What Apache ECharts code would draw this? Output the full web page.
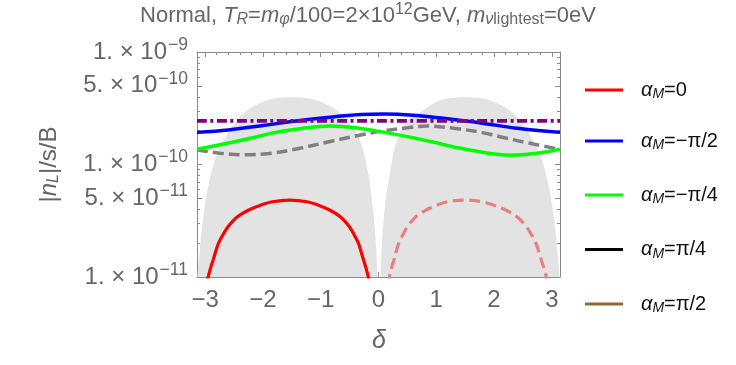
<!DOCTYPE html>
<html><head><meta charset="utf-8">
<script src="https://cdn.jsdelivr.net/npm/echarts@6/dist/echarts.min.js"></script>
<style>html,body{margin:0;padding:0;background:#fff}#c{width:736px;height:365px}</style>
</head><body><div id="c"></div>
<script>
// ---------- axes ----------
const xMin = -Math.PI, xMax = Math.PI;
const yMin = 1e-11, yMax = 1e-9;
const xTickLabels = [-3, -2, -1, 0, 1, 2, 3];
const xMinorTicks = [-2.8,-2.6,-2.4,-2.2,-1.8,-1.6,-1.4,-1.2,-0.8,-0.6,-0.4,-0.2,0.2,0.4,0.6,0.8,1.2,1.4,1.6,1.8,2.2,2.4,2.6,2.8];
const yTickLabels = [1e-11, 5e-11, 1e-10, 5e-10, 1e-9];
const yMinorTicks = [2e-11,3e-11,4e-11,6e-11,7e-11,8e-11,9e-11,2e-10,3e-10,4e-10,6e-10,7e-10,8e-10,9e-10];

// ---------- data (delta, |n_L|/s/B) ----------
const shadeLeftDelta  = [-3.1416,-3.134,-3.104,-3.047,-2.96,-2.814,-2.67,-2.496,-2.264,-2.0,-1.8,-1.5,-1.2,-1.0,-0.727,-0.496,-0.322,-0.177,-0.101,-0.049,-0.021,-0.012];
const shadeLeftValue  = [8e-12,1.0e-11,1.51e-11,3.0e-11,5.93e-11,1.17e-10,1.65e-10,2.32e-10,3.05e-10,3.62e-10,3.87e-10,3.96e-10,3.87e-10,3.62e-10,3.05e-10,2.32e-10,1.65e-10,8.36e-11,4.22e-11,2.13e-11,1.08e-11,8e-12];
const shadeRightDelta = [0.022,0.035,0.063,0.11,0.197,0.317,0.461,0.779,1.0,1.2,1.5,1.8,2.0,2.264,2.496,2.67,2.814,2.96,3.047,3.104,3.134,3.1416];
const shadeRightValue = [8e-12,1.08e-11,2.13e-11,4.22e-11,8.36e-11,1.65e-10,2.32e-10,3.05e-10,3.62e-10,3.87e-10,3.96e-10,3.87e-10,3.62e-10,3.05e-10,2.32e-10,1.65e-10,1.17e-10,5.93e-11,3.0e-11,1.51e-11,1.0e-11,8e-12];

const redDelta  = [-2.984,-2.948,-2.907,-2.861,-2.815,-2.769,-2.687,-2.605,-2.452,-2.247,-2.042,-1.837,-1.53,-1.237,-1.041,-0.846,-0.651,-0.504,-0.426,-0.348,-0.304,-0.26,-0.216,-0.177,-0.143];
const redValue  = [8.5e-12,1.0e-11,1.2e-11,1.42e-11,1.7e-11,2.0e-11,2.4e-11,2.8e-11,3.4e-11,3.94e-11,4.35e-11,4.67e-11,4.83e-11,4.67e-11,4.35e-11,3.94e-11,3.4e-11,2.8e-11,2.4e-11,2.0e-11,1.7e-11,1.42e-11,1.2e-11,1.0e-11,8.5e-12];
const pinkDelta = [0.155,0.188,0.225,0.267,0.309,0.351,0.426,0.5,0.64,0.827,1.013,1.2,1.48,1.789,1.995,2.2,2.406,2.56,2.643,2.725,2.771,2.818,2.864,2.905,2.941];
const pinkValue = [8.5e-12,1.0e-11,1.2e-11,1.42e-11,1.7e-11,2.0e-11,2.4e-11,2.8e-11,3.4e-11,3.94e-11,4.35e-11,4.67e-11,4.83e-11,4.67e-11,4.35e-11,3.94e-11,3.4e-11,2.8e-11,2.4e-11,2.0e-11,1.7e-11,1.42e-11,1.2e-11,1.0e-11,8.5e-12];
const blueDelta  = [-3.1416,-2.6,-2.0,-1.4,-0.8,-0.3,0.1,0.6,1.2,1.8,2.4,3.1416];
const blueValue  = [1.93e-10,2.03e-10,2.22e-10,2.45e-10,2.65e-10,2.78e-10,2.81e-10,2.74e-10,2.55e-10,2.33e-10,2.1e-10,1.93e-10];
const greenDelta = [-3.1416,-2.6,-2.2,-1.8,-1.3,-0.84,-0.4,0.03,0.5,0.9,1.4,1.9,2.29,2.75,3.1416];
const greenValue = [1.365e-10,1.55e-10,1.72e-10,1.92e-10,2.1e-10,2.2e-10,2.12e-10,1.96e-10,1.77e-10,1.6e-10,1.4e-10,1.26e-10,1.21e-10,1.26e-10,1.365e-10];
const grayDelta  = [-3.1416,-2.75,-2.3,-1.9,-1.4,-0.84,-0.4,0.03,0.5,0.84,1.3,1.8,2.2,2.6,3.1416];
const grayValue  = [1.35e-10,1.26e-10,1.22e-10,1.25e-10,1.38e-10,1.6e-10,1.79e-10,1.97e-10,2.12e-10,2.2e-10,2.1e-10,1.92e-10,1.72e-10,1.55e-10,1.365e-10];
const purpleDelta = [-3.1416, 0, 3.1416];
const purpleValue = [2.44e-10, 2.44e-10, 2.44e-10];

const legendNames  = ['aM0','aMm2','aMm4','aMp4','aMp2'];
const legendLabels = ['=0','=\u2212\u03c0/2','=\u2212\u03c0/4','=\u03c0/4','=\u03c0/2'];
const legendColors = ['#ff0000','#0000ff','#00ff00','#000000','#996633'];

// ---------- build ----------
const zip = (a, b) => a.map((d, i) => [d, b[i]]);
const FONT = "'Liberation Sans', Arial, sans-serif";
const GRAYTXT = '#666666';
const FRAME = '#8a8a8a';

function fmtY(v) {
  const e = Math.floor(Math.log10(v) + 1e-6);
  const m = Math.round(v / Math.pow(10, e));
  return '{m|' + m + '. \u00d7 10}{e|\u2212' + (-e) + '}';
}
const yRich = {
  m: {fontSize: 24, color: GRAYTXT, fontFamily: FONT},
  e: {fontSize: 17.5, color: GRAYTXT, fontFamily: FONT, padding: [0, 0, 14, 1]}
};

const grid = {left: 197, right: 176, top: 52, bottom: 88};

function xAx(pos, ticks, len, labels, line) {
  return {
    type: 'value', min: xMin, max: xMax, position: pos,
    axisLine: {show: line, onZero: false, lineStyle: {color: FRAME, width: 1}},
    axisTick: {show: true, inside: true, length: len, customValues: ticks, lineStyle: {color: FRAME}},
    axisLabel: labels ? {show: true, customValues: xTickLabels, margin: 11, color: GRAYTXT, fontSize: 24, fontFamily: FONT,
      formatter: v => (v < 0 ? '\u2212' + (-v) : '' + v)} : {show: false},
    splitLine: {show: false}
  };
}
function yAx(pos, ticks, len, labels, line) {
  return {
    type: 'log', logBase: 10, min: yMin, max: yMax, position: pos,
    axisLine: {show: line, onZero: false, lineStyle: {color: FRAME, width: 1}},
    axisTick: {show: true, inside: true, length: len, customValues: ticks, lineStyle: {color: FRAME}},
    axisLabel: labels ? {show: true, customValues: yTickLabels, margin: 9, formatter: fmtY, rich: yRich} : {show: false},
    splitLine: {show: false}, minorTick: {show: false}
  };
}

function lineSeries(name, d, v, color, width, type, z) {
  return {
    name: name, type: 'line', data: zip(d, v), showSymbol: false, symbol: 'none', smooth: 0.35,
    clip: true, z: z, silent: true, animation: false,
    itemStyle: {color: color},
    lineStyle: {color: color, width: width, type: type, cap: 'butt'}
  };
}
function shadeSeries(d, v) {
  return {
    type: 'line', data: zip(d, v), showSymbol: false, symbol: 'none', smooth: 0.3, clip: true, z: 1,
    silent: true, animation: false,
    lineStyle: {width: 0, color: '#e3e3e3'},
    itemStyle: {color: '#e3e3e3'},
    areaStyle: {color: '#e3e3e3', opacity: 1, origin: 'start'}
  };
}

const series = [
  shadeSeries(shadeLeftDelta, shadeLeftValue),
  shadeSeries(shadeRightDelta, shadeRightValue),
  lineSeries('pink', pinkDelta, pinkValue, '#e88080', 3.2, [11, 5.5], 3),
  lineSeries(legendNames[0], redDelta, redValue, legendColors[0], 3.2, 'solid', 4),
  lineSeries('gray', grayDelta, grayValue, '#808080', 3.5, [11, 5], 5),
  lineSeries(legendNames[2], greenDelta, greenValue, legendColors[2], 3.5, 'solid', 6),
  lineSeries(legendNames[1], blueDelta, blueValue, legendColors[1], 3.5, 'solid', 7),
  lineSeries('purple', purpleDelta, purpleValue, '#800080', 3.6, [10, 3.5, 3, 3.5], 8),
  lineSeries(legendNames[3], [], [], legendColors[3], 3, 'solid', 2),
  lineSeries(legendNames[4], [], [], legendColors[4], 3, 'solid', 2)
];

const legendCenters = [93, 144, 198, 252.5, 307];
const legends = legendNames.map((n, i) => ({
  data: [n], orient: 'vertical', left: 585, top: legendCenters[i] - 13,
  icon: 'rect', itemWidth: 38, itemHeight: 3, selectedMode: false, padding: 0,
  formatter: () => '{sp| }{a|\u03b1}{M|M}{t|' + legendLabels[i] + '}',
  textStyle: {
    rich: {
      sp: {width: 13, fontSize: 10},
      a: {fontSize: 20, fontStyle: 'italic', color: '#111', fontFamily: FONT},
      M: {fontSize: 14, fontStyle: 'italic', color: '#111', fontFamily: FONT, padding: [9, 0, 0, 0]},
      t: {fontSize: 20, color: '#111', fontFamily: FONT}
    }
  }
}));

const titleRich = {
  n: {fontSize: 22, color: GRAYTXT, fontFamily: FONT, fontWeight: 'normal'},
  i: {fontSize: 22, color: GRAYTXT, fontFamily: FONT, fontStyle: 'italic', fontWeight: 'normal'},
  is: {fontSize: 16, color: GRAYTXT, fontFamily: FONT, fontStyle: 'italic', fontWeight: 'normal', padding: [9, 0, 0, 0]},
  ss: {fontSize: 16, color: GRAYTXT, fontFamily: FONT, fontWeight: 'normal', padding: [9, 0, 0, 0]},
  sup: {fontSize: 16, color: GRAYTXT, fontFamily: FONT, fontWeight: 'normal', padding: [0, 0, 11, 0]}
};

const chart = echarts.init(document.getElementById('c'), null, {renderer: 'canvas'});
chart.setOption({
  animation: false,
  backgroundColor: '#ffffff',
  title: {
    text: '{n|Normal, }{i|T}{is|R}{n|=}{i|m}{is|\u03c6}{n|/100=2\u00d710}{sup|12}{n|GeV, }{i|m}{is|\u03bd}{ss|lightest}{n|=0eV}',
    left: 'center', top: 2, padding: 0,
    textStyle: {fontWeight: 'normal', color: GRAYTXT, rich: titleRich}
  },
  legend: legends,
  grid: grid,
  xAxis: [
    xAx('bottom', xTickLabels, 5, true, true),
    xAx('bottom', xMinorTicks, 3, false, false),
    xAx('top', xTickLabels, 5, false, true),
    xAx('top', xMinorTicks, 3, false, false)
  ],
  yAxis: [
    yAx('left', yTickLabels, 5, true, true),
    yAx('left', yMinorTicks, 3, false, false),
    yAx('right', yTickLabels, 5, false, true),
    yAx('right', yMinorTicks, 3, false, false)
  ],
  graphic: [
    {type: 'text', x: 49, y: 164.5, rotation: Math.PI / 2,
      style: {text: '{t||}{i|n}{s|L}{t||/s/B}', textAlign: 'center', textVerticalAlign: 'middle', fill: GRAYTXT,
        rich: {
          t: {fontSize: 24, fill: GRAYTXT, fontFamily: FONT},
          i: {fontSize: 24, fill: GRAYTXT, fontFamily: FONT, fontStyle: 'italic'},
          s: {fontSize: 16, fill: GRAYTXT, fontFamily: FONT, fontStyle: 'italic', padding: [10, 0, 0, 0]}
        }}},
    {type: 'text', x: 379, y: 341,
      style: {text: '\u03b4', fontSize: 25, fontStyle: 'italic', fill: GRAYTXT, fontFamily: FONT,
        textAlign: 'center', textVerticalAlign: 'middle'}}
  ],
  series: series
});
</script></body></html>
